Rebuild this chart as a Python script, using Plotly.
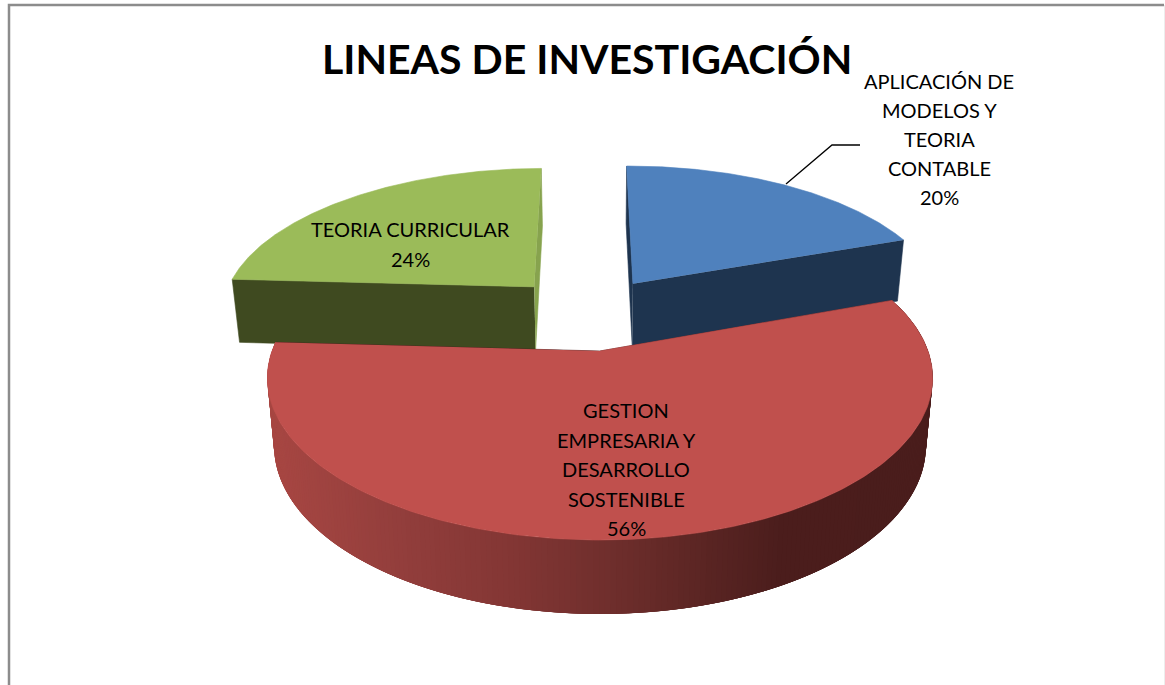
import numpy as np
import plotly.graph_objects as go

title = "LINEAS DE INVESTIGACIÓN"
categories = ["APLICACIÓN DE MODELOS Y TEORIA CONTABLE", "GESTION EMPRESARIA Y DESARROLLO SOSTENIBLE", "TEORIA CURRICULAR"]
shares = [19.6, 56.4, 24.0]
label_lines = [
    ["APLICACIÓN DE", "MODELOS Y", "TEORIA", "CONTABLE"],
    ["GESTION", "EMPRESARIA Y", "DESARROLLO", "SOSTENIBLE"],
    ["TEORIA CURRICULAR"],
]
explode = [(0.108, 0.46), (0.0, 0.0), (-0.215, 0.437)]
top_colors = ["#4F81BD", "#C0504D", "#9BBB59"]
cut_colors = ["#1E344F", "#4A1D1C", "#3F4A20"]
sliver_colors = ["#1E344F", "#4A1D1C", "#87A34E"]
label_pos = [(939, 81), (626, 410), (410, 229)]
LINE = [29, 29.5, 30]

CX, CY, R, S, K, RAD = 600, 351, 328, 157.5, 1 / 6, 1.0
DEPTH, K2, BOTTOM = 66.3, 0.104, 0.98
START = -0.4


def project(u, v, lower=False):
    x = CX + R * u / (1 + K * v)
    y = CY - S * v / (1 + K * v)
    if lower:
        x = CX + (x - CX) * BOTTOM
        y = y + DEPTH / (1 + K2 * v)
    return x, y


def wall_color(x):
    xs = [270, 400, 500, 600, 700, 770, 930]
    rs = [0xA8, 0x92, 0x84, 0x70, 0x5A, 0x4C, 0x4A]
    gs = [0x47, 0x3E, 0x37, 0x2F, 0x25, 0x1E, 0x1D]
    bs = [0x43, 0x3C, 0x35, 0x2D, 0x23, 0x1D, 0x1C]
    return "rgb(%d,%d,%d)" % (np.interp(x, xs, rs), np.interp(x, xs, gs), np.interp(x, xs, bs))


fig = go.Figure()


def poly(xs, ys, color, width=0.6, name=None):
    fig.add_trace(go.Scatter(x=list(xs), y=list(ys), mode="lines", fill="toself", fillcolor=color,
                             line=dict(color=color, width=width), hoverinfo="skip", showlegend=False,
                             name=name))


edges = np.cumsum([0] + shares) * 3.6 + START
pieces = []
for i in range(len(shares)):
    a0, a1 = np.radians(edges[i]), np.radians(edges[i + 1])
    pieces.append((i, a0, a1))

# painter's order: rear slices first, the large front slice last
for i, a0, a1 in [pieces[2], pieces[0], pieces[1]]:
    ox, oy = explode[i]
    ang = np.linspace(a0, a1, 241)
    u = ox + RAD * np.sin(ang)
    v = oy + RAD * np.cos(ang)
    # cut faces
    for (ue, ve, col) in ((u[0], v[0], sliver_colors[i] if i != 2 else cut_colors[i]),
                          (u[-1], v[-1], cut_colors[i] if i != 2 else sliver_colors[i])):
        t = np.array([project(ox, oy), project(ue, ve), project(ue, ve, True), project(ox, oy, True)])
        poly(t[:, 0], t[:, 1], col)
    # outer wall: overlapping strips, so that no seam shows
    if i == 1:
        for j in range(0, len(ang) - 1):
            k = min(j + 4, len(ang) - 1)
            p = np.array([project(u[j], v[j]), project(u[k], v[k]),
                          project(u[k], v[k], True), project(u[j], v[j], True)])
            poly(p[:, 0], p[:, 1], wall_color(p[:, 0].mean()), width=0)
    tx, ty = project(np.r_[ox, u], np.r_[oy, v])
    poly(tx, ty, top_colors[i], name=categories[i])

# leader line of the first label
fig.add_trace(go.Scatter(x=[786, 832, 860], y=[184, 145, 145], mode="lines",
                         line=dict(color="#000000", width=1.3), hoverinfo="skip", showlegend=False))

# frame
fig.add_trace(go.Scatter(x=[9, 9, 1164], y=[685, 5, 5], mode="lines",
                         line=dict(color="#8C8C8C", width=2.5), hoverinfo="skip", showlegend=False))
fig.add_trace(go.Scatter(x=[1164.5, 1164.5], y=[5, 685], mode="lines",
                         line=dict(color="#EDEDED", width=1), hoverinfo="skip", showlegend=False))

annotations = [dict(x=587, y=58, text="<b>%s</b>" % title, showarrow=False, xref="x", yref="y",
                    font=dict(family="Lato", size=41, color="#000000"))]
for i in range(len(shares)):
    x0, y0 = label_pos[i]
    lines = label_lines[i] + ["%d%%" % round(shares[i])]
    for n, s in enumerate(lines):
        annotations.append(dict(x=x0, y=y0 + n * LINE[i], text=s, showarrow=False, xref="x", yref="y",
                                font=dict(family="Lato", size=20, color="#000000")))

fig.update_layout(
    width=1165, height=685, margin=dict(l=0, r=0, t=0, b=0),
    paper_bgcolor="#FFFFFF", plot_bgcolor="#FFFFFF", showlegend=False,
    xaxis=dict(range=[0, 1165], visible=False, fixedrange=True),
    yaxis=dict(range=[685, 0], visible=False, fixedrange=True),
    annotations=annotations,
)
fig.write_html("out.html", post_script="document.body.style.margin='0';",
               config=dict(displayModeBar=False))
